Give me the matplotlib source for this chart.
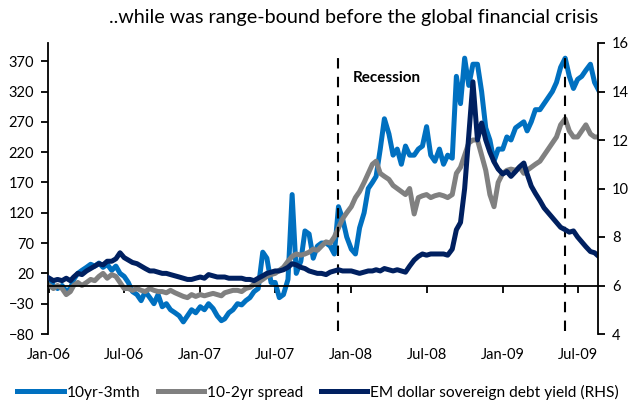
import matplotlib

matplotlib.use("Agg")
import matplotlib.dates as mdates
import matplotlib.pyplot as plt
import pandas as pd

plt.rcParams["font.family"] = ["Lato", "DejaVu Sans"]

# three readings per month (1st, 11th, 21st), Jan-06 .. Aug-09
months = pd.date_range("2006-01-01", "2009-08-01", freq="MS")
dates = [m + pd.Timedelta(days=d) for m in months for d in (0, 10, 20)]

# 10yr-3mth spread (bp, LHS)
spread_10y3m = [
    10, 0, -5, 0, -10, -5, 10, 20, 25, 30, 35, 32,  # 2006 Jan-Apr
    37, 30, 35, 25, 32, 20, 15, 5, -10, -15, -25, -10,  # May-Aug
    -20, -30, -15, -35, -30, -40, -45, -50, -60, -50, -40, -45,  # Sep-Dec
    -35, -40, -30, -38, -50, -58, -55, -45, -40, -30, -32, -25,  # 2007 Jan-Apr
    -20, -10, -5, 55, 45, 5, 5, -20, -15, 10, 150, 20,  # May-Aug
    40, 90, 85, 45, 65, 70, 70, 65, 52, 130, 110, 80,  # Sep-Dec
    60, 52, 95, 120, 160, 170, 180, 225, 275, 250, 215, 225,  # 2008 Jan-Apr
    200, 230, 215, 215, 225, 230, 262, 215, 205, 225, 200, 215,  # May-Aug
    210, 345, 300, 375, 330, 365, 365, 320, 260, 240, 205, 225,  # Sep-Dec
    225, 245, 240, 260, 265, 270, 255, 270, 290, 290, 300, 310,  # 2009 Jan-Apr
    320, 335, 360, 375, 345, 325, 340, 345, 355, 365, 335, 322,  # May-Aug
]

# 10-2yr spread (bp, LHS)
spread_10y2y = [
    0, -5, 0, -5, -15, -10, 0, 5, 0, 5, 10, 8,
    15, 20, 12, 18, 15, 5, -5, -5, -8, -5, -8, -10,
    -5, -8, -10, -10, -12, -8, -12, -15, -18, -20, -15, -18,
    -15, -17, -15, -13, -15, -17, -12, -10, -8, -8, -10, -5,
    -3, 2, 5, 10, 15, 18, 20, 25, 30, 40, 48, 52,
    50, 52, 55, 60, 58, 65, 72, 70, 80, 95, 110, 120,
    130, 145, 155, 170, 185, 200, 205, 185, 180, 175, 165, 160,
    155, 150, 160, 118, 145, 148, 150, 145, 148, 150, 148, 145,
    150, 185, 195, 215, 235, 240, 240, 215, 190, 150, 130, 170,
    185, 190, 192, 190, 195, 185, 190, 195, 200, 205, 215, 225,
    235, 245, 265, 275, 255, 245, 245, 255, 265, 250, 245, 245,
]

# EM dollar sovereign debt yield (%, RHS)
em_yield = [
    6.3, 6.2, 6.25, 6.2, 6.3, 6.2, 6.35, 6.5, 6.45, 6.6, 6.7, 6.8,
    6.9, 6.85, 7.0, 7.0, 7.1, 7.35, 7.15, 7.05, 6.95, 6.9, 6.8, 6.7,
    6.6, 6.6, 6.55, 6.5, 6.5, 6.45, 6.4, 6.35, 6.3, 6.25, 6.25, 6.3,
    6.35, 6.3, 6.45, 6.4, 6.35, 6.35, 6.35, 6.3, 6.3, 6.3, 6.3, 6.25,
    6.25, 6.2, 6.3, 6.4, 6.5, 6.55, 6.6, 6.6, 6.65, 6.75, 6.9, 6.85,
    6.75, 6.7, 6.6, 6.55, 6.5, 6.5, 6.45, 6.55, 6.6, 6.65, 6.6, 6.6,
    6.6, 6.55, 6.5, 6.55, 6.6, 6.6, 6.65, 6.6, 6.7, 6.65, 6.6, 6.65,
    6.6, 6.55, 6.8, 7.05, 7.2, 7.3, 7.25, 7.3, 7.3, 7.3, 7.3, 7.25,
    7.5, 8.3, 8.6, 10.0, 12.2, 14.4, 12.0, 12.7, 12.0, 11.5, 11.1, 10.8,
    10.6, 10.7, 10.5, 10.7, 10.9, 11.05, 10.6, 10.1, 9.8, 9.5, 9.2, 9.0,
    8.8, 8.6, 8.4, 8.3, 8.2, 8.25, 8.0, 7.8, 7.6, 7.4, 7.35, 7.2,
]

recession_dates = [pd.Timestamp("2007-12-01"), pd.Timestamp("2009-06-01")]
left_ticks = list(range(-80, 371, 50))
right_ticks = [4, 6, 8, 10, 12, 14, 16]

c_blue = "#0070C0"
c_grey = "#808080"
c_navy = "#002060"

fig = plt.figure(figsize=(6.32, 4.0), dpi=100)
ax = fig.add_axes([0.076, 0.165, 0.87, 0.7275])
ax2 = ax.twinx()

l1, = ax.plot(dates, spread_10y3m, color=c_blue, lw=3.6, solid_joinstyle="round")
l2, = ax.plot(dates, spread_10y2y, color=c_grey, lw=3.6, solid_joinstyle="round")
l3, = ax2.plot(dates, em_yield, color=c_navy, lw=3.6, solid_joinstyle="round")

for d in recession_dates:
    ax.plot([d, d], [-75, 377], color="black", lw=1.5, dashes=(5, 4))

ax.text(0.555, 0.88, "Recession", transform=ax.transAxes, fontsize=11,
        fontweight="bold", ha="left", va="center")

ax.set_ylim(-80, 400)
ax2.set_ylim(4, 16)
ax.set_yticks(left_ticks)
ax2.set_yticks(right_ticks)
ax.set_xlim(pd.Timestamp("2005-12-29"), pd.Timestamp("2009-08-19"))

ax.xaxis.set_major_locator(mdates.MonthLocator(bymonth=[1, 7]))
ax.xaxis.set_major_formatter(mdates.DateFormatter("%b-%y"))

ax.spines["bottom"].set_position(("data", 0))
for s in ["top", "right"]:
    ax.spines[s].set_visible(False)
for s in ["top", "bottom", "left"]:
    ax2.spines[s].set_visible(False)
for a in (ax, ax2):
    for s in a.spines.values():
        s.set_linewidth(1.3)

ax.tick_params(axis="x", direction="out", length=5, width=1.3, pad=40, labelsize=10.5)
ax.tick_params(axis="y", direction="out", length=5, width=1.3, pad=5, labelsize=10.5)
ax2.tick_params(axis="y", direction="out", length=5, width=1.3, pad=5, labelsize=10.5)

fig.text(0.56, 0.955, "..while was range-bound before the global financial crisis",
         ha="center", va="center", fontsize=14.2)

fig.legend([l1, l2, l3],
           ["10yr-3mth", "10-2yr spread", "EM dollar sovereign debt yield (RHS)"],
           loc="center left", bbox_to_anchor=(0.027, 0.02), ncol=3, frameon=False,
           fontsize=11.2, handlelength=3.0, handletextpad=0.2, columnspacing=1.1,
           borderpad=0, borderaxespad=0)

fig.savefig("out.png", dpi=100)
